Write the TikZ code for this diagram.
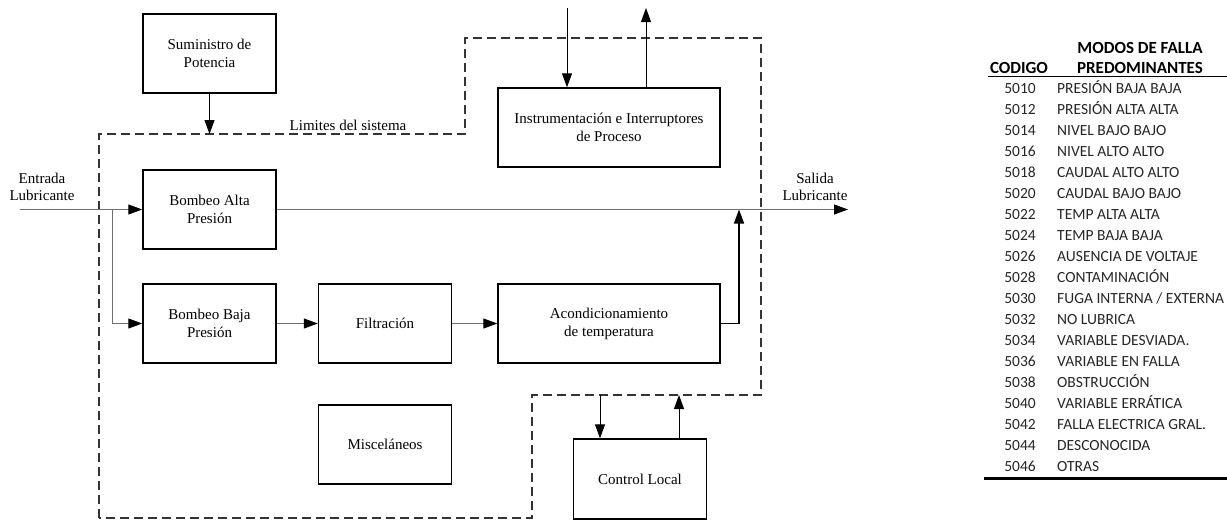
\documentclass[tikz,border=0pt]{standalone}
\usepackage{fontspec}
\setmainfont{Liberation Serif}
\newfontfamily\tabfont{Carlito}
\usetikzlibrary{arrows.meta}
\definecolor{lngray}{HTML}{707070}
\definecolor{dashc}{HTML}{333333}
\begin{document}
\begin{tikzpicture}[x=1pt,y=-1pt,
  box/.style={draw, line width=1.4pt, minimum width=133pt, minimum height=79pt, align=center, inner sep=0pt, font=\fontsize{15}{18}\selectfont},
  lbl/.style={align=center, inner sep=0pt, font=\fontsize{15}{17}\selectfont},
  tip/.style={-{Triangle[length=14pt,width=10pt,black]}},
  grayline/.style={tip, draw=lngray, line width=1pt},
  blkline/.style={tip, draw=black, line width=1pt},
  boldline/.style={tip, draw=black, line width=1.6pt},
  boundary/.style={draw=dashc, line width=1.4pt, dash pattern=on 9pt off 5pt},
  code/.style={anchor=base, inner sep=0pt, font=\tabfont\fontsize{15.5}{18}\selectfont, text=black!85},
  desc/.style={anchor=base west, inner sep=0pt, font=\tabfont\fontsize{15.5}{18}\selectfont, text=black!85},
  head/.style={anchor=base, inner sep=0pt, font=\tabfont\bfseries\fontsize{17}{20}\selectfont}
]
\useasboundingbox (0,0) rectangle (1227,520);

% boundary
\draw[boundary] (99,518) -- (99,134) -- (465,134) -- (465,38) -- (761,38) -- (761,395) -- (532,395) -- (532,518) -- cycle;
\node[lbl] (lim) at (348,125) {Limites del sistema};

% boxes
\node[box] (sum) at (209.5,53.5) {Suministro de\\Potencia};
\node[box] (balta) at (209.5,209.5) {Bombeo Alta\\Presión};
\node[box] (bbaja) at (209.5,323.5) {Bombeo Baja\\Presión};
\node[box] (filt) at (385,323.5) {Filtración};
\node[box, minimum width=222pt] (acond) at (609,323.5) {Acondicionamiento\\de temperatura};
\node[box, minimum width=222pt] (inst) at (609,127.5) {Instrumentación e Interruptores\\de Proceso};
\node[box] (misc) at (385,444.5) {Misceláneos};
\node[box, minimum height=80pt] (ctrl) at (640,479) {Control Local};

% labels
\node[lbl] (ent) at (42,187) {Entrada\\Lubricante};
\node[lbl] (sal) at (815,187) {Salida\\Lubricante};

% coordinates
\coordinate (in) at (20,209.5);
\coordinate (br) at (112,209.5);
\coordinate (out) at (848,209.5);
\coordinate (join) at (739,209.5);
\coordinate (s1) at (209.5,134);
\coordinate (itop) at (567,8);
\coordinate (otop) at (646,8);
\coordinate (c1) at (600,395);
\coordinate (c2) at (679,395);

% connectors
\draw[grayline] (in) -- (balta.west);
\draw[grayline] (br) |- (bbaja.west);
\draw[grayline] (balta.east) -- (out);
\draw[grayline] (bbaja.east) -- (filt.west);
\draw[grayline] (filt.east) -- (acond.west);
\draw[boldline] (acond.east) -| (join);
\draw[blkline] (sum.south) -- (s1);
\draw[blkline] (itop) -- (itop |- inst.north);
\draw[blkline] (otop |- inst.north) -- (otop);
\draw[blkline] (c1) -- (c1 |- ctrl.north);
\draw[blkline] (c2 |- ctrl.north) -- (c2);

% table
\node[head] (hm) at (1140,53) {MODOS DE FALLA};
\node[head] (hp) at (1140,73) {PREDOMINANTES};
\node[head] (hc) at (1019,73) {CODIGO};
\draw[line width=1.5pt] (988,76.5) -- (1227,76.5);
\foreach \c/\d [count=\i from 0] in {5010/{PRESIÓN BAJA BAJA}, 5012/{PRESIÓN ALTA ALTA}, 5014/{NIVEL BAJO BAJO}, 5016/{NIVEL ALTO ALTO}, 5018/{CAUDAL ALTO ALTO}, 5020/{CAUDAL BAJO BAJO}, 5022/{TEMP ALTA ALTA}, 5024/{TEMP BAJA BAJA}, 5026/{AUSENCIA DE VOLTAJE}, 5028/{CONTAMINACIÓN}, 5030/{FUGA INTERNA / EXTERNA}, 5032/{NO LUBRICA}, 5034/{VARIABLE DESVIADA.}, 5036/{VARIABLE EN FALLA}, 5038/{OBSTRUCCIÓN}, 5040/{VARIABLE ERRÁTICA}, 5042/{FALLA ELECTRICA GRAL.}, 5044/{DESCONOCIDA}, 5046/{OTRAS}}{
  \node[code] (c\i) at (1020,{93+21*\i}) {\c};
  \node[desc] (d\i) at (1057,{93+21*\i}) {\d};
}
\draw[line width=3pt] (984,478.5) -- (1227,478.5);
\end{tikzpicture}
\end{document}
